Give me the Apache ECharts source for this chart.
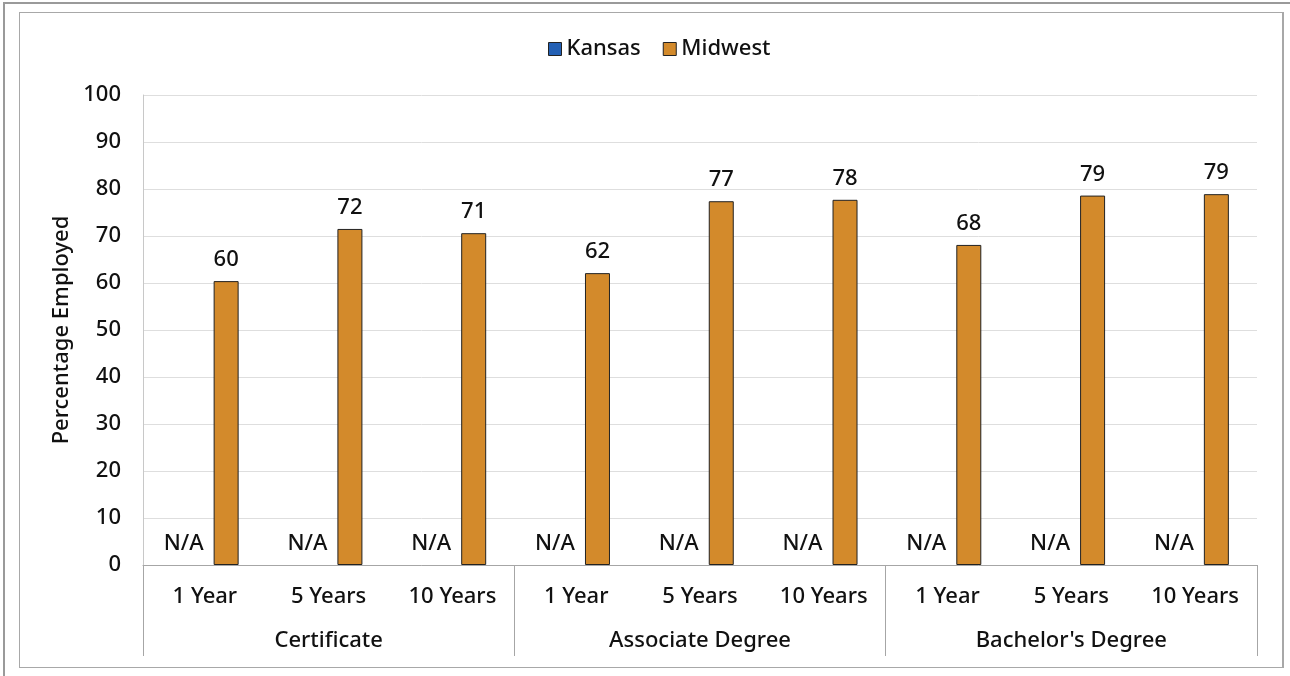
<!DOCTYPE html>
<html lang="en">
  <head>
    <meta charset="UTF-8" />
    <title>Percentage Employed</title>
    <script src="https://cdn.jsdelivr.net/npm/echarts@6/dist/echarts.min.js"></script>
    <style>
      body { margin: 0; background: #fff; }
      .echarts { position: absolute; left: 0; top: 0; width: 1290px; height: 676px; }
      .outer { position: absolute; left: 3px; top: 2px; width: 1300px; height: 700px;
               border-top: 2px solid #9a9a9a; border-left: 2px solid #9a9a9a; pointer-events: none; }
      .inner { position: absolute; left: 19px; top: 12px; width: 1262px; height: 654px;
               border: 1px solid #a8a8a8; border-right-width: 2px; pointer-events: none; }
    </style>
  </head>
  <body>
    <div class="echarts"></div>
    <div class="outer"></div>
    <div class="inner"></div>
    <script>
        const font = '"Noto Sans", sans-serif'

        // 数据
        const periods = ['1 Year', '5 Years', '10 Years', '1 Year', '5 Years', '10 Years', '1 Year', '5 Years', '10 Years']
        const degrees = ['Certificate', 'Associate Degree', "Bachelor's Degree"]
        const kansas = [0, 0, 0, 0, 0, 0, 0, 0, 0]   // no data -> shown as N/A
        const midwest = [60.4, 71.5, 70.6, 62.1, 77.4, 77.7, 68.1, 78.6, 78.9]

        const txt = {fontSize: 22, fontWeight: 500, color: '#111', fontFamily: font}

        const myCharts = echarts.init(document.querySelector('.echarts'))

        const option = {
            textStyle: {fontFamily: font},
            legend: {
                top: 33,
                left: 543,
                icon: 'rect',
                itemWidth: 13,
                itemHeight: 13,
                itemGap: 22,
                textStyle: txt,
                data: [
                    {name: 'Kansas', itemStyle: {borderColor: '#222', borderWidth: 1}},
                    {name: 'Midwest', itemStyle: {borderColor: '#222', borderWidth: 1}}
                ]
            },
            grid: {left: 143, right: 33, top: 95, bottom: 111},
            xAxis: [
                {
                    type: 'category',
                    data: periods,
                    position: 'bottom',
                    axisLine: {lineStyle: {color: '#a6a6a6', width: 1}},
                    axisTick: {show: false},
                    axisLabel: Object.assign({interval: 0, margin: 21}, txt)
                },
                {
                    // 分组轴: 刻度线当作分隔线
                    type: 'category',
                    data: degrees,
                    position: 'bottom',
                    axisLine: {show: false},
                    axisTick: {show: true, interval: 0, length: 91, lineStyle: {color: '#a6a6a6'}},
                    axisLabel: Object.assign({interval: 0, margin: 65}, txt)
                }
            ],
            yAxis: {
                type: 'value',
                min: 0,
                max: 100,
                interval: 10,
                name: 'Percentage Employed',
                nameLocation: 'middle',
                nameGap: 67,
                nameTextStyle: txt,
                axisLine: {show: true, lineStyle: {color: '#c8c8c8'}},
                axisTick: {show: false},
                axisLabel: Object.assign({margin: 22}, txt),
                splitLine: {lineStyle: {color: '#dedede'}}
            },
            series: [
                {
                    name: 'Kansas',
                    type: 'bar',
                    xAxisIndex: 0,
                    data: kansas,
                    barWidth: 25,
                    barGap: '70%',
                    itemStyle: {color: '#2360b4', borderWidth: 0},
                    label: Object.assign({show: true, position: 'top', distance: 10, formatter: 'N/A'}, txt)
                },
                {
                    name: 'Midwest',
                    type: 'bar',
                    xAxisIndex: 0,
                    data: midwest,
                    barWidth: 25,
                    barGap: '70%',
                    itemStyle: {color: '#d38a2b', borderColor: '#222', borderWidth: 1},
                    label: Object.assign({show: true, position: 'top', distance: 10,
                            formatter: (p) => Math.round(p.value)}, txt)
                }
            ]
        }

        myCharts.setOption(option)
    </script>
  </body>
</html>
